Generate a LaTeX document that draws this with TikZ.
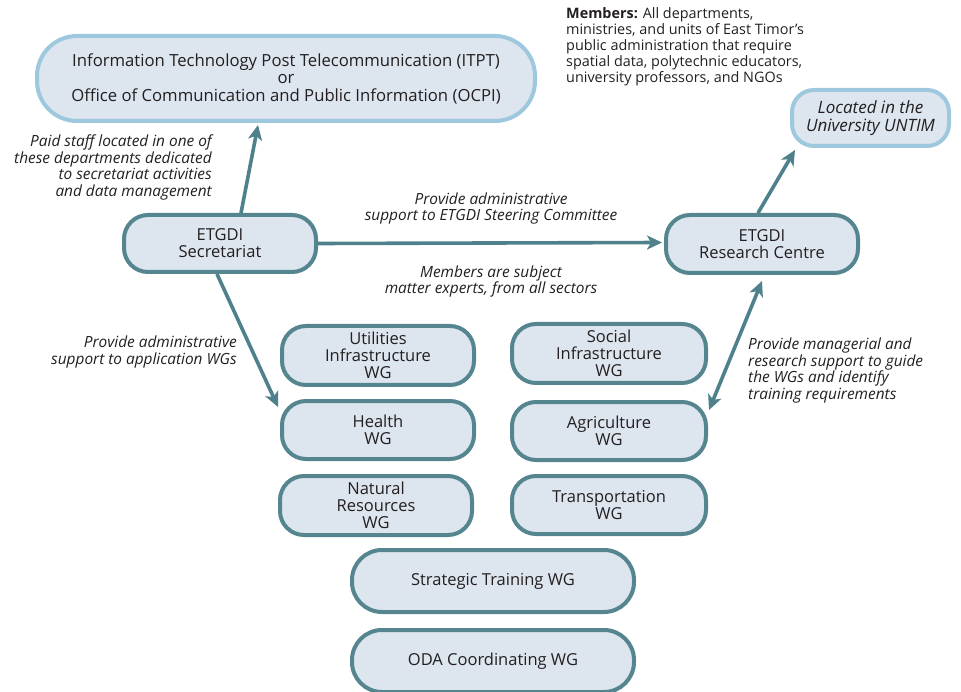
\documentclass[tikz,border=0pt]{standalone}
\usepackage{fontspec}
\setmainfont{Open Sans}
\usetikzlibrary{arrows.meta,calc}
\definecolor{boxfill}{HTML}{DDE5EE}
\definecolor{tealline}{HTML}{55868F}
\definecolor{skyline}{HTML}{9DC8DE}
\definecolor{arrowcol}{HTML}{4F818C}
\definecolor{ink}{HTML}{231F20}
\tikzset{
  x=1pt,y=-1pt,
  every node/.style={text=ink, inner sep=0pt},
  wgbox/.style={draw=tealline, line width=4pt, fill=boxfill, rounded corners=24pt,
    align=center, font=\fontsize{16.5}{17}\selectfont},
  hostbox/.style={draw=skyline, line width=4pt, fill=boxfill, rounded corners=30pt,
    align=center},
  note/.style={font=\fontsize{15.4}{16.5}\selectfont\itshape},
  link/.style={draw=arrowcol, line width=3.6pt,
    -{Stealth[length=15pt,width=14pt,inset=4pt]}},
  both/.style={draw=arrowcol, line width=3.6pt,
    {Stealth[length=15pt,width=14pt,inset=4pt]}-{Stealth[length=15pt,width=14pt,inset=4pt]}},
}
\begin{document}
\begin{tikzpicture}
\useasboundingbox (0,0) rectangle (961,692);

% host organisations
\node[hostbox, minimum width=498pt, minimum height=85pt, rounded corners=40pt,
  font=\fontsize{16.7}{17.5}\selectfont] (itpt) at (286,78.5)
  {Information Technology Post Telecommunication (ITPT)\\or\\Office of Communication and Public Information (OCPI)};
\node[hostbox, minimum width=157pt, minimum height=56pt, rounded corners=22pt,
  font=\fontsize{17}{17.5}\selectfont\itshape] (untim) at (870.5,118)
  {Located in the\\University UNTIM};

% core bodies
\node[wgbox, minimum width=192pt, minimum height=57pt] (sec) at (220,243.5) {ETGDI\\Secretariat};
\node[wgbox, minimum width=192pt, minimum height=58pt] (rc) at (762,244) {ETGDI\\Research Centre};

% working groups
\node[wgbox, minimum width=192pt, minimum height=59pt] (util) at (378,355.5) {Utilities\\Infrastructure\\WG};
\node[wgbox, minimum width=192pt, minimum height=58pt] (health) at (378,430) {Health\\WG};
\node[wgbox, minimum width=192pt, minimum height=59pt] (natural) at (376,505.5) {Natural\\Resources\\WG};
\node[wgbox, minimum width=194pt, minimum height=59pt] (social) at (609,353.5) {Social\\Infrastructure\\WG};
\node[wgbox, minimum width=194pt, minimum height=58pt] (agri) at (609,431) {Agriculture\\WG};
\node[wgbox, minimum width=194pt, minimum height=58pt] (trans) at (609,505) {Transportation\\WG};
\node[wgbox, minimum width=282pt, minimum height=62pt, rounded corners=30pt] (strat) at (493,581) {Strategic Training WG};
\node[wgbox, minimum width=282pt, minimum height=62pt, rounded corners=30pt] (oda) at (493,661) {ODA Coordinating WG};

% connectors
\draw[link] ($(sec.north)+(21,0)$) -- ($(itpt.south)+(-28,2)$);
\draw[link] (sec.east) -- ($(rc.west)+(-2,-1.5)$);
\draw[link] ($(sec.south)+(-3,0)$) -- ($(health.north west)+(-2,8)$);
\draw[link] ($(rc.north)+(-4,0)$) -- ($(untim.south west)+(5,2)$);
\draw[both] ($(rc.south)+(0,6)$) -- ($(agri.north east)+(1,10)$);

% notes
\node[note, align=right, anchor=north east] (paid) at (212,135)
  {Paid staff located in one of\\these departments dedicated\\to secretariat activities\\and data management};
\node[note, align=center] (steer) at (491,208.5)
  {Provide administrative\\support to ETGDI Steering Committee};
\node[note, align=center] (subj) at (491,281.5)
  {Members are subject\\matter experts, from all sectors};
\node[note, align=right, anchor=north east] (appwg) at (237,336)
  {Provide administrative\\support to application WGs};
\node[note, align=left, anchor=north west] (manage) at (748,338)
  {Provide managerial and\\research support to guide\\the WGs and identify\\training requirements};
\node[align=left, anchor=north west, font=\fontsize{14.4}{16}\selectfont] (members) at (566,7)
  {\textbf{Members:} All departments,\\ministries, and units of East Timor’s\\public administration that require\\spatial data, polytechnic educators,\\university professors, and NGOs};
\end{tikzpicture}
\end{document}
